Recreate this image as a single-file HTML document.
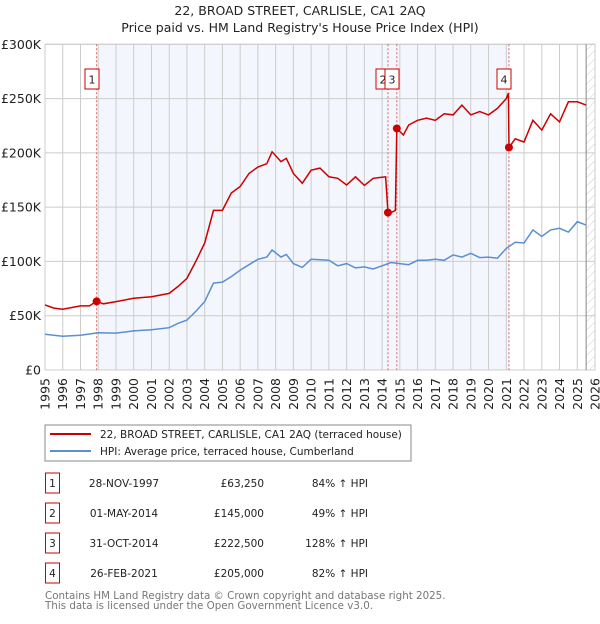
<!DOCTYPE html>
<html><head><meta charset="utf-8"><style>
body{margin:0;background:#fff;width:600px;height:620px;overflow:hidden;font-family:"DejaVu Sans","Liberation Sans",sans-serif}
svg text{font-family:"DejaVu Sans","Liberation Sans",sans-serif}
</style></head><body>
<svg id="c" width="600" height="620" xmlns="http://www.w3.org/2000/svg"></svg>
<script>
const yTicks=[0,50,100,150,200,250,300];
const yTickLabels=["£0","£50K","£100K","£150K","£200K","£250K","£300K"];
const xYears=[1995,1996,1997,1998,1999,2000,2001,2002,2003,2004,2005,2006,2007,2008,2009,2010,2011,2012,2013,2014,2015,2016,2017,2018,2019,2020,2021,2022,2023,2024,2025,2026];
const hpiT=[1995,1996,1997,1998,1999,2000,2001,2002,2002.5,2003,2003.5,2004,2004.5,2005,2005.5,2006,2006.5,2007,2007.5,2007.8,2008.3,2008.6,2009,2009.5,2010,2011,2011.5,2012,2012.5,2013,2013.5,2014,2014.5,2015,2015.5,2016,2016.5,2017,2017.5,2018,2018.5,2019,2019.5,2020,2020.5,2021,2021.5,2022,2022.5,2023,2023.5,2024,2024.5,2025,2025.5];
const hpiV=[32.9,31,32,34.4,34,36,37,39,43,46,54,63,80,81,86,92,97,102,104,110.5,104,106.5,98,94.5,102,101,96,98,94,95,93,96,99,98,97,101,101,102,101,106,104,107.5,103.5,104,103,112,117.6,117,129,123,129,130.5,127,136.6,133.5];
const priceT=[1995,1995.5,1996,1997,1997.5,1997.91,1998.3,1999,2000,2001,2002,2002.5,2003,2003.5,2004,2004.5,2005,2005.5,2006,2006.5,2007,2007.5,2007.8,2008.3,2008.6,2009,2009.5,2010,2010.5,2011,2011.5,2012,2012.5,2013,2013.5,2014.2,2014.33,2014.5,2014.75,2014.83,2015.2,2015.5,2016,2016.5,2017,2017.5,2018,2018.5,2019,2019.5,2020,2020.5,2021,2021.12,2021.15,2021.5,2022,2022.5,2023,2023.5,2024,2024.5,2025,2025.5];
const priceV=[60,57,56,59,59,63.25,61,63,66,67.5,70.6,77,84.4,100,117,147,147,163,169,181,187,190,201,192,195,181,172,184,186,178,176.6,170.4,178,170,176.6,178,145,145,147,222.5,216.5,225.7,230,232,230,236,235,244,235,238,235,241,250,255,205,213,210,230,221,236,228.5,247,247,244];
const saleIds=["1","2","3","4"];
const saleT=[1997.91,2014.33,2014.83,2021.15];
const saleV=[63.25,145,222.5,205];
const saleLabelX=[92,383,392,504];

const X0=45,X1=595,Y0=370,Y1=44.3;
const xs=t=>X0+(t-1995)*(X1-X0)/31;
const ys=v=>Y0-v*(Y0-Y1)/300;
const svg=document.getElementById('c');const NS='http://www.w3.org/2000/svg';
function mk(tag,attrs,parent){const e=document.createElementNS(NS,tag);for(const k in attrs)e.setAttribute(k,attrs[k]);(parent||svg).appendChild(e);return e;}

const defs=mk('defs',{});
const pat=mk('pattern',{id:'h',width:6,height:6,patternUnits:'userSpaceOnUse',patternTransform:'rotate(45)'},defs);
mk('line',{x1:0,y1:0,x2:0,y2:6,stroke:'#ccc','stroke-width':1},pat);

let e=mk('rect',{x:xs(1998),y:Y1,width:xs(2021.15)-xs(1998),height:Y0-Y1,fill:'#f3f6fd'});

e=mk('rect',{x:xs(2025.5),y:Y1,width:X1-xs(2025.5),height:Y0-Y1,fill:'url(#h)'});


xYears.forEach(yr=>{const l=mk('line',{x1:xs(yr),x2:xs(yr),y1:Y1,y2:Y0,stroke:'#ccc','stroke-width':1});

const t=mk('text',{x:0,y:0,transform:`translate(${xs(yr)+4.5},${Y0+8}) rotate(-90)`,'text-anchor':'end','font-size':12.5,fill:'#222'});t.textContent=yr;
});
yTicks.forEach((v,i)=>{const l=mk('line',{x1:X0,x2:X1,y1:ys(v),y2:ys(v),stroke:'#ccc','stroke-width':1});

const t=mk('text',{x:X0-4,y:ys(v)+4.5,'text-anchor':'end','font-size':12.5,fill:'#222'});t.textContent=yTickLabels[i];
});
e=mk('rect',{x:X0,y:Y1,width:X1-X0,height:Y0-Y1,fill:'none',stroke:'#ccc'});

e=mk('line',{x1:xs(2025.5),x2:xs(2025.5),y1:Y1,y2:Y0,stroke:'#888'});


saleT.forEach((t,i)=>{const l=mk('line',{x1:xs(t),x2:xs(t),y1:Y1,y2:Y0,stroke:'#e06060','stroke-dasharray':'2,2','stroke-width':1});
});

let d=hpiT.map((t,i)=>(i?'L':'M')+xs(t).toFixed(1)+','+ys(hpiV[i]).toFixed(1)).join('');
e=mk('path',{d:d,fill:'none',stroke:'#5b8fd0','stroke-width':1.5});

d=priceT.map((t,i)=>(i?'L':'M')+xs(t).toFixed(1)+','+ys(priceV[i]).toFixed(1)).join('');
e=mk('path',{d:d,fill:'none',stroke:'#cc0000','stroke-width':1.5});

saleT.forEach((t,i)=>{const c=mk('circle',{cx:xs(t),cy:ys(saleV[i]),r:4,fill:'#cc0000'});

const b=mk('rect',{x:saleLabelX[i]-7,y:69,width:14,height:20,fill:'#fff',stroke:'#cc0000'});

const tx=mk('text',{x:saleLabelX[i],y:83.5,'text-anchor':'middle','font-size':11,fill:'#222'});tx.textContent=saleIds[i];
});

[["22, BROAD STREET, CARLISLE, CA1 2AQ",15],["Price paid vs. HM Land Registry's House Price Index (HPI)",32]].forEach(([s,y])=>{
const t=mk('text',{x:300,y:y,'text-anchor':'middle','font-size':12.5,fill:'#222'});t.textContent=s;
});

const lg=mk('g',{});
mk('rect',{x:45,y:425,width:366,height:36,fill:'#fff',stroke:'#888'},lg);
e=mk('line',{x1:50,x2:91,y1:434,y2:434,stroke:'#cc0000','stroke-width':2},lg);

e=mk('text',{x:100,y:438,'font-size':10.5,fill:'#222'},lg);e.textContent='22, BROAD STREET, CARLISLE, CA1 2AQ (terraced house)';
e=mk('line',{x1:50,x2:91,y1:451,y2:451,stroke:'#5b8fd0','stroke-width':2},lg);

e=mk('text',{x:100,y:455,'font-size':10.5,fill:'#222'},lg);e.textContent='HPI: Average price, terraced house, Cumberland';

const dates=["28-NOV-1997","01-MAY-2014","31-OCT-2014","26-FEB-2021"];
const prices=["£63,250","£145,000","£222,500","£205,000"];
const pcts=["84% ↑ HPI","49% ↑ HPI","128% ↑ HPI","82% ↑ HPI"];
dates.forEach((dt,i)=>{const y=483+i*30;const g=mk('g',{});

mk('rect',{x:45.5,y:y-10,width:14,height:20,fill:'#fff',stroke:'#cc0000'},g);
let t=mk('text',{x:52.5,y:y+4,'text-anchor':'middle','font-size':10.5,fill:'#222'},g);t.textContent=saleIds[i];
t=mk('text',{x:124,y:y+4,'text-anchor':'middle','font-size':10.5,fill:'#222'},g);t.textContent=dt;
t=mk('text',{x:264,y:y+4,'text-anchor':'end','font-size':10.5,fill:'#222'},g);t.textContent=prices[i];
t=mk('text',{x:368,y:y+4,'text-anchor':'end','font-size':10.5,fill:'#222'},g);t.textContent=pcts[i];});

[["Contains HM Land Registry data © Crown copyright and database right 2025.",599],["This data is licensed under the Open Government Licence v3.0.",609]].forEach(([s,y])=>{
const t=mk('text',{x:45,y:y,'font-size':10.3,fill:'#777'});t.textContent=s;
});
</script>
</body></html>
